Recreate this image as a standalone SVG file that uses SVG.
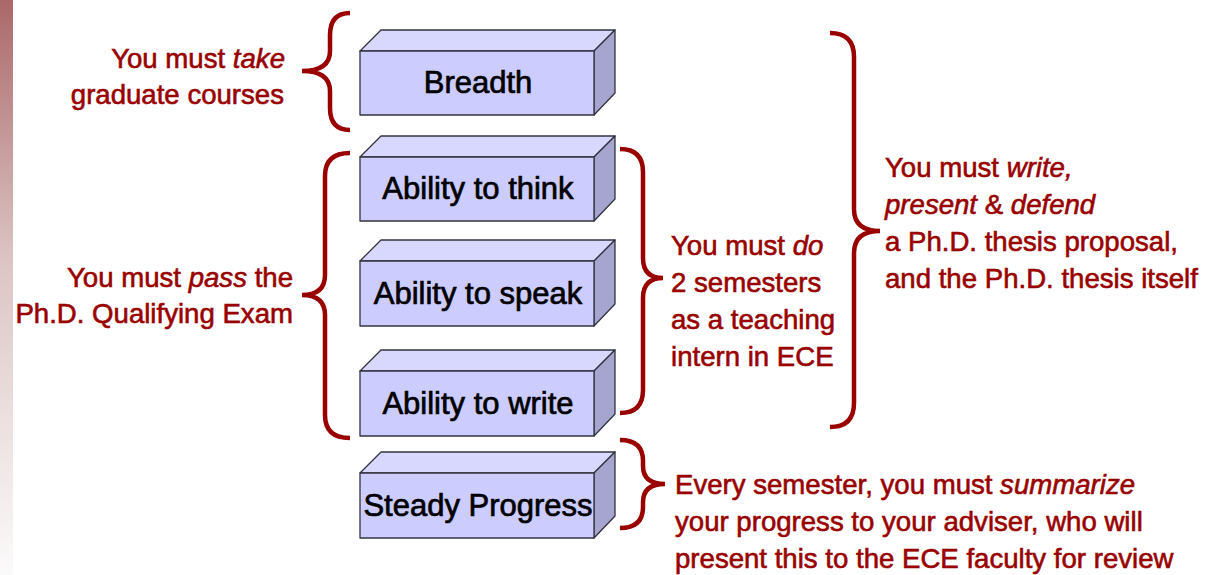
<svg xmlns="http://www.w3.org/2000/svg" width="1207" height="575" viewBox="0 0 1207 575">
<defs>
<linearGradient id="strip" x1="0" y1="0" x2="0" y2="1">
<stop offset="0" stop-color="#ab6868"/>
<stop offset="0.45" stop-color="#dcc4c4"/>
<stop offset="1" stop-color="#fbfafa"/>
</linearGradient>
<style>
.front{fill:#ccccff;stroke:#333340;stroke-width:1.3;stroke-linejoin:round}
.top{fill:#d8d8ff;stroke:#333340;stroke-width:1.3;stroke-linejoin:round}
.side{fill:#a5a5cf;stroke:#333340;stroke-width:1.3;stroke-linejoin:round}
.lbl{font-family:"Liberation Sans",Arial,sans-serif;font-size:31px;fill:#000;stroke:#000;stroke-width:0.7;text-anchor:middle}
.red{font-family:"Liberation Sans",Arial,sans-serif;font-size:27.6px;fill:#990000;stroke:#990000;stroke-width:0.6}
.end{text-anchor:end}
.brace{fill:none;stroke:#990000;stroke-width:4.5}
</style>
</defs>
<rect x="0" y="0" width="13" height="575" fill="url(#strip)"/>

<g id="breadth">
<polygon class="top" points="360,51 381,30 615,30 594,51"/>
<polygon class="side" points="594,51 615,30 615,93 594,115"/>
<rect class="front" x="360" y="51" width="234" height="64"/>
<text class="lbl" x="478" y="93">Breadth</text>
</g>
<g id="think">
<polygon class="top" points="360,157 381,136 615,136 594,157"/>
<polygon class="side" points="594,157 615,136 615,199 594,221"/>
<rect class="front" x="360" y="157" width="234" height="64"/>
<text class="lbl" x="478" y="199">Ability to think</text>
</g>
<g id="speak">
<polygon class="top" points="360,261 381,240 615,240 594,261"/>
<polygon class="side" points="594,261 615,240 615,304 594,326"/>
<rect class="front" x="360" y="261" width="234" height="65"/>
<text class="lbl" x="478" y="304">Ability to speak</text>
</g>
<g id="write">
<polygon class="top" points="360,371 381,350 615,350 594,371"/>
<polygon class="side" points="594,371 615,350 615,414 594,436"/>
<rect class="front" x="360" y="371" width="234" height="65"/>
<text class="lbl" x="478" y="414">Ability to write</text>
</g>
<g id="steady">
<polygon class="top" points="360,473 381,452 615,452 594,473"/>
<polygon class="side" points="594,473 615,452 615,516 594,538"/>
<rect class="front" x="360" y="473" width="234" height="65"/>
<text class="lbl" x="478" y="516">Steady Progress</text>
</g>

<g id="connectors">
<path class="brace" d="M350,13 Q330,13 330,35 L330,51 Q330,71 302,71 Q330,71 330,91 L330,108 Q330,130 350,130"/>
<path class="brace" d="M350,153 Q325,153 325,176 L325,275 Q325,295 302,295 Q325,295 325,315 L325,415 Q325,438 350,438"/>
<path class="brace" d="M620,149 Q643,149 643,172 L643,258 Q643,278 663,278 Q643,278 643,298 L643,390 Q643,413 620,413"/>
<path class="brace" d="M830,33 Q854,33 854,57 L854,209 Q854,231 880,231 Q854,231 854,253 L854,403 Q854,427 830,427"/>
<path class="brace" d="M620,440 Q643,440 643,461 L643,466 Q643,484 665,484 Q643,484 643,502 L643,507 Q643,528 620,528"/>
</g>

<g id="note-take">
<text class="red end" x="285" y="68">You must <tspan font-style="italic">take</tspan></text>
<text class="red end" x="284" y="104">graduate courses</text>
</g>
<g id="note-pass">
<text class="red end" x="293" y="287">You must <tspan font-style="italic">pass</tspan> the</text>
<text class="red end" x="293" y="323">Ph.D. Qualifying Exam</text>
</g>
<g id="note-do">
<text class="red" x="671" y="255">You must <tspan font-style="italic">do</tspan></text>
<text class="red" x="671" y="292">2 semesters</text>
<text class="red" x="671" y="329">as a teaching</text>
<text class="red" x="671" y="366">intern in ECE</text>
</g>
<g id="note-write">
<text class="red" x="885" y="177">You must <tspan font-style="italic">write,</tspan></text>
<text class="red" x="885" y="214"><tspan font-style="italic">present</tspan> &amp; <tspan font-style="italic">defend</tspan></text>
<text class="red" x="885" y="251">a Ph.D. thesis proposal,</text>
<text class="red" x="885" y="288">and the Ph.D. thesis itself</text>
</g>
<g id="note-summarize">
<text class="red" x="675" y="494">Every semester, you must <tspan font-style="italic">summarize</tspan></text>
<text class="red" x="675" y="531">your progress to your adviser, who will</text>
<text class="red" x="675" y="568">present this to the ECE faculty for review</text>
</g>
</svg>
